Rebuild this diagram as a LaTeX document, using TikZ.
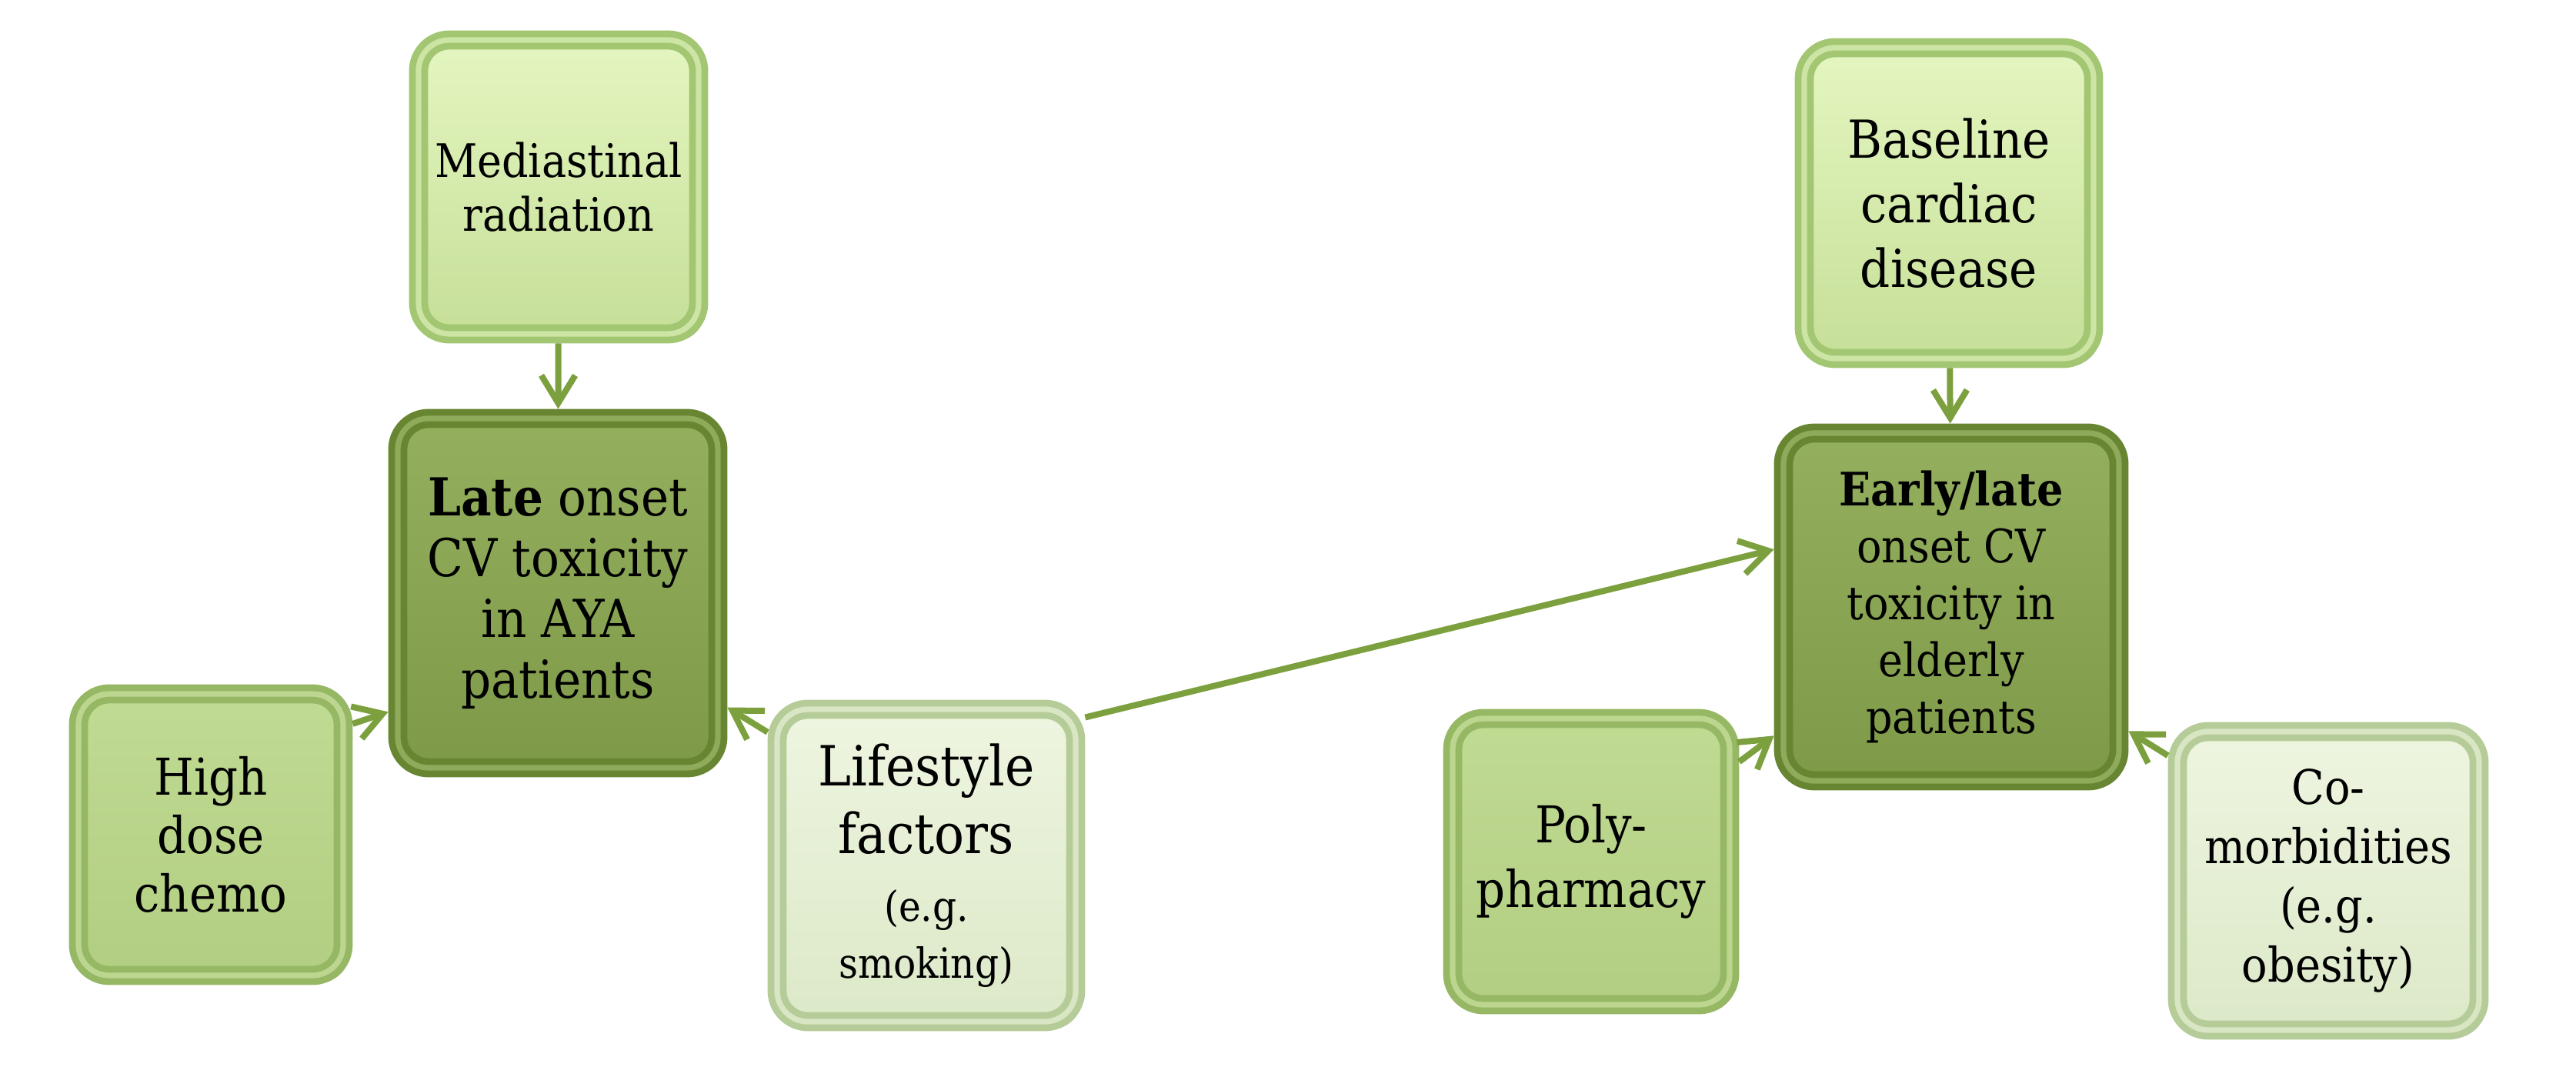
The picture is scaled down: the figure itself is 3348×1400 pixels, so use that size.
\documentclass[tikz,border=0pt]{standalone}
\usepackage{fontspec}
\setmainfont{DejaVu Serif Condensed}
\usetikzlibrary{arrows.meta,shadows}

\definecolor{arrowgreen}{RGB}{124,160,62}
\definecolor{coreframe}{RGB}{104,134,50}
\definecolor{coreridge}{RGB}{142,170,90}
\definecolor{coretop}{RGB}{148,176,94}
\definecolor{corebot}{RGB}{126,154,72}
\definecolor{paleframe}{RGB}{162,198,114}
\definecolor{paleridge}{RGB}{204,228,164}
\definecolor{paletop}{RGB}{228,246,192}
\definecolor{palebot}{RGB}{198,223,152}
\definecolor{midframe}{RGB}{150,184,100}
\definecolor{midridge}{RGB}{188,214,144}
\definecolor{midtop}{RGB}{192,219,146}
\definecolor{midbot}{RGB}{178,206,130}
\definecolor{softframe}{RGB}{182,204,152}
\definecolor{softridge}{RGB}{216,230,196}
\definecolor{softtop}{RGB}{238,245,224}
\definecolor{softbot}{RGB}{220,233,200}

\newcommand{\boxfont}[2]{\fontsize{#1}{#2}\selectfont}

\tikzset{every picture/.style={line width=0.75pt}}
\tikzset{
  tile/.style={rectangle, rounded corners=10pt, line width=2.2pt, double distance=1.8pt,
    outer sep=3.1pt, align=center, inner sep=1pt,
    drop shadow={shadow xshift=2pt, shadow yshift=-2.5pt, opacity=0.35, fill=black!70}},
  pale/.style={tile, draw=paleframe, double=paleridge, top color=paletop, bottom color=palebot},
  mid/.style={tile, draw=midframe, double=midridge, top color=midtop, bottom color=midbot},
  soft/.style={tile, draw=softframe, double=softridge, top color=softtop, bottom color=softbot},
  core/.style={tile, draw=coreframe, double=coreridge, top color=coretop, bottom color=corebot},
  link/.style={draw=arrowgreen, line width=2pt, -{Straight Barb[length=9pt,width=11pt,line width=2pt]}}
}

\begin{document}
\begin{tikzpicture}[x=0.25pt,y=0.25pt,yscale=-1,xscale=1]
\useasboundingbox (0,0) rectangle (3348,1400);

%Rounded Rect: left group
\draw (726,243) node [pale, minimum width=91pt, minimum height=95.5pt, font=\boxfont{15}{17.5}] (med) {Mediastinal\\radiation};
\draw (725,771) node [core, minimum width=104pt, minimum height=113.5pt, font=\boxfont{17}{19.75}] (late) {\textbf{Late} onset\\CV toxicity\\in AYA\\patients};
\draw (274,1085) node [mid, minimum width=86pt, minimum height=91.5pt, font=\boxfont{16.5}{19}] (high) {High\\dose\\chemo};
\draw (1204,1125) node [soft, minimum width=97pt, minimum height=101.5pt, font=\boxfont{18}{22}] (life) {Lifestyle\\factors\\[0pt]{\boxfont{13.5}{13.5}(e.g.}\\[-3.5pt]{\boxfont{13.5}{13.5}smoking)}};

%Rounded Rect: right group
\draw (2533,264) node [pale, minimum width=94pt, minimum height=101pt, font=\boxfont{17}{21}] (base) {Baseline\\cardiac\\disease};
\draw (2536,789) node [core, minimum width=109pt, minimum height=113pt, font=\boxfont{15}{18.5}] (early) {\textbf{Early/late}\\onset CV\\toxicity in\\elderly\\patients};
\draw (2068,1120) node [mid, minimum width=90pt, minimum height=93pt, font=\boxfont{16.5}{21}] (poly) {Poly-\\pharmacy};
\draw (3026,1145) node [soft, minimum width=98pt, minimum height=97pt, font=\boxfont{15.5}{19.25}] (como) {Co-\\morbidities\\(e.g.\\obesity)};

%Straight Lines
\draw [link] (med) -- (late);
\draw [link] (high.38) -- (late.215);
\draw [link] (life.140) -- (late.-34);
\draw [link] (life.43) -- (early.162);
\draw [link] (base) -- (early);
\draw [link] (poly.34) -- (early.216);
\draw [link] (como.142) -- (early.-35);

\end{tikzpicture}
\end{document}
